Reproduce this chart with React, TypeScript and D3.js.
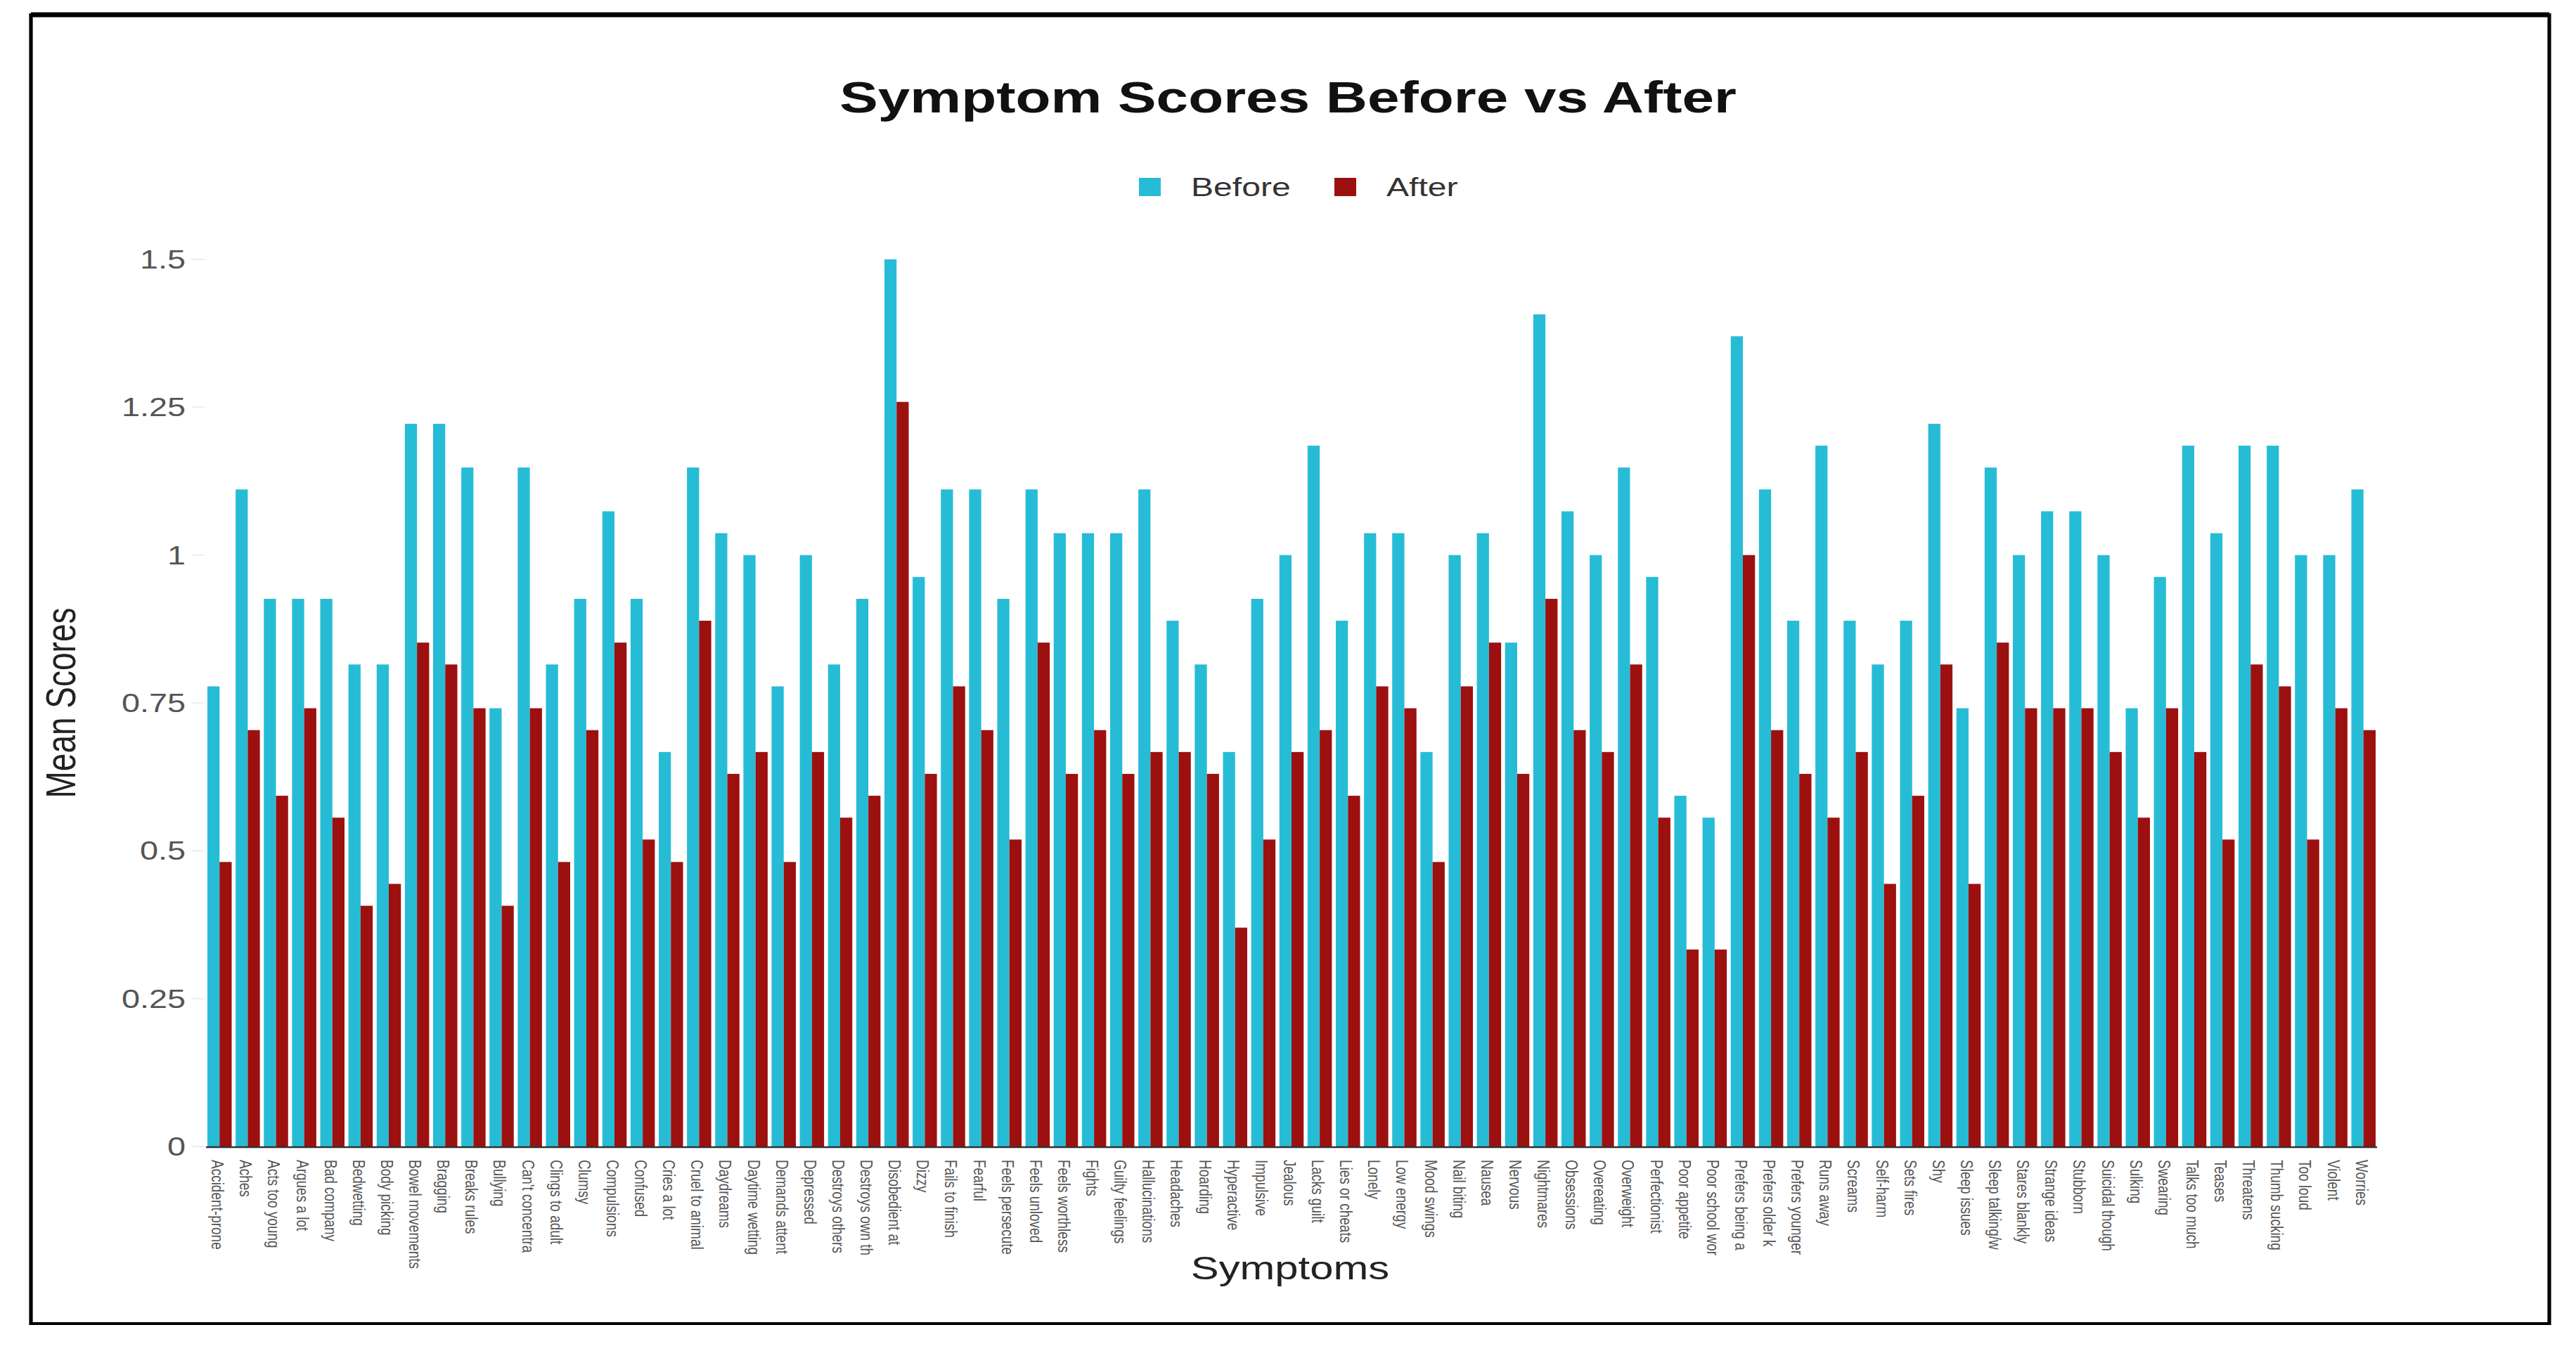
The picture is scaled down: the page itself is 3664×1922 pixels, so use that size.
import * as d3 from "d3";
import { useEffect, useRef } from "react";

const categories = [
  "Accident-prone", "Aches", "Acts too young", "Argues a lot", "Bad company",
  "Bedwetting", "Body picking", "Bowel movements", "Bragging", "Breaks rules",
  "Bullying", "Can't concentra", "Clings to adult", "Clumsy", "Compulsions",
  "Confused", "Cries a lot", "Cruel to animal", "Daydreams", "Daytime wetting",
  "Demands attent", "Depressed", "Destroys others", "Destroys own th", "Disobedient at",
  "Dizzy", "Fails to finish", "Fearful", "Feels persecute", "Feels unloved",
  "Feels worthless", "Fights", "Guilty feelings", "Hallucinations", "Headaches",
  "Hoarding", "Hyperactive", "Impulsive", "Jealous", "Lacks guilt",
  "Lies or cheats", "Lonely", "Low energy", "Mood swings", "Nail biting",
  "Nausea", "Nervous", "Nightmares", "Obsessions", "Overeating",
  "Overweight", "Perfectionist", "Poor appetite", "Poor school wor", "Prefers being a",
  "Prefers older k", "Prefers younger", "Runs away", "Screams", "Self-harm",
  "Sets fires", "Shy", "Sleep issues", "Sleep talking/w", "Stares blankly",
  "Strange ideas", "Stubborn", "Suicidal though", "Sulking", "Swearing",
  "Talks too much", "Teases", "Threatens", "Thumb sucking", "Too loud",
  "Violent", "Worries",
];

const before = [
  0.778, 1.111, 0.926, 0.926, 0.926, 0.815, 0.815, 1.222, 1.222, 1.148,
  0.741, 1.148, 0.815, 0.926, 1.074, 0.926, 0.667, 1.148, 1.037, 1.0,
  0.778, 1.0, 0.815, 0.926, 1.5, 0.963, 1.111, 1.111, 0.926, 1.111,
  1.037, 1.037, 1.037, 1.111, 0.889, 0.815, 0.667, 0.926, 1.0, 1.185,
  0.889, 1.037, 1.037, 0.667, 1.0, 1.037, 0.852, 1.407, 1.074, 1.0,
  1.148, 0.963, 0.593, 0.556, 1.37, 1.111, 0.889, 1.185, 0.889, 0.815,
  0.889, 1.222, 0.741, 1.148, 1.0, 1.074, 1.074, 1.0, 0.741, 0.963,
  1.185, 1.037, 1.185, 1.185, 1.0, 1.0, 1.111,
];

const after = [
  0.481, 0.704, 0.593, 0.741, 0.556, 0.407, 0.444, 0.852, 0.815, 0.741,
  0.407, 0.741, 0.481, 0.704, 0.852, 0.519, 0.481, 0.889, 0.63, 0.667,
  0.481, 0.667, 0.556, 0.593, 1.259, 0.63, 0.778, 0.704, 0.519, 0.852,
  0.63, 0.704, 0.63, 0.667, 0.667, 0.63, 0.37, 0.519, 0.667, 0.704,
  0.593, 0.778, 0.741, 0.481, 0.778, 0.852, 0.63, 0.926, 0.704, 0.667,
  0.815, 0.556, 0.333, 0.333, 1.0, 0.704, 0.63, 0.556, 0.667, 0.444,
  0.593, 0.815, 0.444, 0.852, 0.741, 0.741, 0.741, 0.667, 0.556, 0.741,
  0.667, 0.519, 0.815, 0.778, 0.519, 0.741, 0.704,
];

const yTicks = [0, 0.25, 0.5, 0.75, 1, 1.25, 1.5];
const seriesNames = ["Before", "After"];
const seriesColors = ["#27bcd6", "#9c1010"];

const W = 3664;
const H = 1922;
// the reference is stretched sideways, so draw in a narrower viewBox
const K = 1.3;
const ox = (x: number) => x / K;
const FONT = "'Liberation Sans', Arial, Helvetica, sans-serif";

export default function App() {
  const svgRef = useRef<SVGSVGElement>(null);

  useEffect(() => {
    const svg = d3.select(svgRef.current);
    svg.selectChildren("*").remove();

    svg.append("rect").attr("width", ox(W)).attr("height", H).attr("fill", "#fff");

    // frame
    svg
      .append("rect")
      .attr("x", ox(44))
      .attr("y", 21)
      .attr("width", ox(3626 - 44))
      .attr("height", 1883 - 21)
      .attr("fill", "none")
      .attr("stroke", "#000")
      .attr("stroke-width", 4);
    svg
      .append("line")
      .attr("x1", ox(44))
      .attr("x2", ox(3626))
      .attr("y1", 21)
      .attr("y2", 21)
      .attr("stroke", "#000")
      .attr("stroke-width", 7);

    const x = d3
      .scaleBand<string>()
      .domain(categories)
      .range([ox(293), ox(3381)])
      .paddingInner(0.14)
      .paddingOuter(0.05);

    const xSub = d3
      .scaleBand<string>()
      .domain(seriesNames)
      .range([0, x.bandwidth()]);

    const y = d3.scaleLinear().domain([0, 1.5]).range([1631, 369]);

    // Y ticks
    const yAxis = svg.append("g");
    yAxis
      .selectAll("line")
      .data(yTicks)
      .join("line")
      .attr("x1", ox(272))
      .attr("x2", ox(291))
      .attr("y1", (d) => y(d))
      .attr("y2", (d) => y(d))
      .attr("stroke", "#eeeeee")
      .attr("stroke-width", 2);
    yAxis
      .selectAll("text")
      .data(yTicks)
      .join("text")
      .attr("x", ox(264))
      .attr("y", (d) => y(d))
      .attr("dy", "0.36em")
      .attr("text-anchor", "end")
      .attr("font-family", FONT)
      .attr("font-size", 36)
      .attr("fill", "#555")
      .text((d) => String(d));

    // Bars
    const groups = svg
      .append("g")
      .selectAll("g")
      .data(categories)
      .join("g")
      .attr("transform", (d) => `translate(${x(d)},0)`);

    groups
      .append("rect")
      .attr("x", xSub("Before")!)
      .attr("width", xSub.bandwidth())
      .attr("y", (_, i) => y(before[i]))
      .attr("height", (_, i) => y(0) - y(before[i]))
      .attr("fill", seriesColors[0]);

    groups
      .append("rect")
      .attr("x", xSub("After")!)
      .attr("width", xSub.bandwidth())
      .attr("y", (_, i) => y(after[i]))
      .attr("height", (_, i) => y(0) - y(after[i]))
      .attr("fill", seriesColors[1]);

    // X axis line
    svg
      .append("line")
      .attr("x1", ox(293))
      .attr("x2", ox(3381))
      .attr("y1", y(0) + 1)
      .attr("y2", y(0) + 1)
      .attr("stroke", "#333")
      .attr("stroke-width", 2.5);

    // X tick labels, rotated
    svg
      .append("g")
      .selectAll("text")
      .data(categories)
      .join("text")
      .attr(
        "transform",
        (d) => `translate(${x(d)! + x.bandwidth() / 2 - 8.5},1650) rotate(90)`
      )
      .attr("text-anchor", "start")
      .attr("font-family", FONT)
      .attr("font-size", 19)
      .attr("fill", "#555")
      .text((d) => d);

    // Title
    svg
      .append("text")
      .attr("x", ox(1832))
      .attr("y", 160)
      .attr("text-anchor", "middle")
      .attr("font-family", FONT)
      .attr("font-weight", "bold")
      .attr("font-size", 63)
      .attr("fill", "#111")
      .text("Symptom Scores Before vs After");

    // Legend
    const legendX = [1620, 1898];
    const legend = svg
      .append("g")
      .selectAll("g")
      .data(seriesNames)
      .join("g")
      .attr("transform", (_, i) => `translate(${ox(legendX[i])},0)`);
    legend
      .append("rect")
      .attr("x", 0)
      .attr("y", 253)
      .attr("width", ox(31))
      .attr("height", 26)
      .attr("fill", (_, i) => seriesColors[i]);
    legend
      .append("text")
      .attr("x", ox(74))
      .attr("y", 279)
      .attr("font-family", FONT)
      .attr("font-size", 37)
      .attr("fill", "#333")
      .text((d) => d);

    // Axis titles
    svg
      .append("text")
      .attr("x", ox(1835))
      .attr("y", 1820)
      .attr("text-anchor", "middle")
      .attr("font-family", FONT)
      .attr("font-size", 46)
      .attr("fill", "#222")
      .text("Symptoms");

    svg
      .append("text")
      .attr("transform", `translate(${ox(107)},1000) rotate(-90)`)
      .attr("text-anchor", "middle")
      .attr("font-family", FONT)
      .attr("font-size", 46)
      .attr("fill", "#222")
      .text("Mean Scores");
  });

  return (
    <svg
      ref={svgRef}
      width={W}
      height={H}
      viewBox={`0 0 ${ox(W)} ${H}`}
      preserveAspectRatio="none"
      style={{ position: "absolute", left: 0, top: 0, display: "block" }}
    ></svg>
  );
}
